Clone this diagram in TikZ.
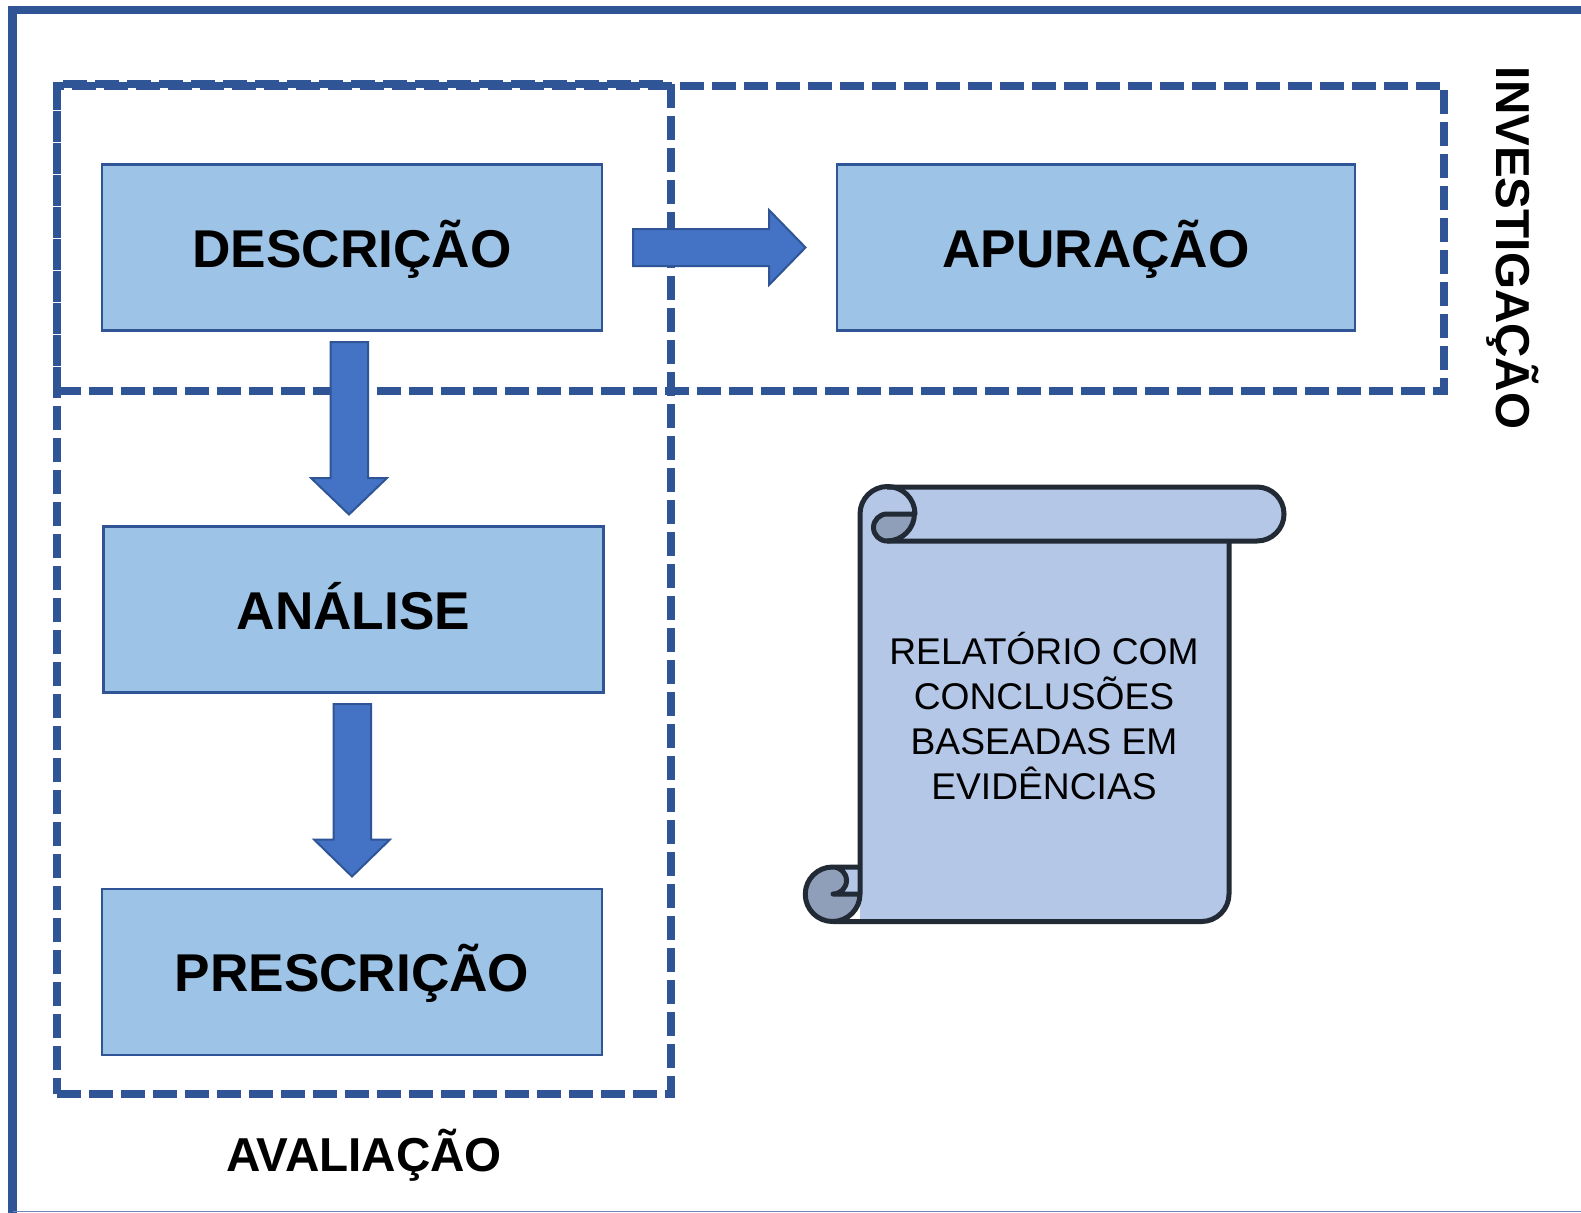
\documentclass[tikz,border=0pt]{standalone}
\usepackage{fontspec}
\setmainfont{Liberation Sans}
\definecolor{frameblue}{HTML}{2F5597}
\definecolor{boxblue}{HTML}{9DC3E6}
\definecolor{arrowblue}{HTML}{4472C4}
\definecolor{scrollfill}{HTML}{B4C7E7}
\definecolor{scrolldark}{HTML}{909FB9}
\definecolor{scrollline}{HTML}{222A35}
\tikzset{
  stagebox/.style={draw=frameblue,fill=boxblue,line width=2.5pt,inner sep=0pt,minimum height=166pt,
    text height=39.5pt,text depth=0pt,font=\fontsize{53.2}{60}\selectfont\bfseries},
  groupbox/.style={draw=frameblue,line width=8pt,dash pattern=on 24pt off 8pt},
  blockarrow/.style={draw=frameblue,fill=arrowblue,line width=2pt,line join=miter},
  grouplabel/.style={inner sep=0pt,font=\fontsize{47.6}{52}\selectfont\bfseries},
  scrollpart/.style={draw=scrollline,line width=5pt,line join=round},
}
\begin{document}
\begin{tikzpicture}[x=1pt,y=-1pt]
\useasboundingbox (0,0) rectangle (1581,1212);
\clip (0,0) rectangle (1581,1212);
\fill[white] (0,0) rectangle (1581,1212);
% outer frame
\draw[frameblue,line width=8.2pt] (1600,10) -- (12.5,10) -- (12.5,1230);
\draw[frameblue!70,line width=1.5pt] (12.5,1211.5) -- (1600,1211.5);
% boxes
\node[stagebox,minimum width=500pt] (descr) at (352,247.5) {DESCRIÇÃO};
\node[stagebox,minimum width=518pt] (apur) at (1096,247.5) {APURAÇÃO};
\node[stagebox,minimum width=500pt] (anal) at (353.5,609.5) {ANÁLISE};
\node[stagebox,minimum width=500pt] (presc) at (352,972) {PRESCRIÇÃO};
% dashed groups
\draw[groupbox] (57,391) -- (1444,391) -- (1444,86) -- (57,86) -- cycle;
\draw[groupbox] (57,1094) -- (671,1094) -- (671,84) -- (57,84) -- cycle;
% block arrows
\draw[blockarrow] (633,229) -- (769,229) -- (769,210) -- (805.5,247.5) -- (769,285) -- (769,266) -- (633,266) -- cycle;
\draw[blockarrow] (330.5,342) -- (368,342) -- (368,478) -- (387,478) -- (349,514.5) -- (311,478) -- (330.5,478) -- cycle;
\draw[blockarrow] (333.5,704) -- (371,704) -- (371,839.5) -- (390,839.5) -- (352,876.5) -- (314,839.5) -- (333.5,839.5) -- cycle;
% scroll
\path[fill=scrollfill] (860,514) arc[start angle=180,end angle=270,radius=27.5] -- (887,487) -- (1257,487)
  arc[start angle=-90,end angle=90,radius=27] -- (1229,541) -- (1229,894)
  arc[start angle=0,end angle=90,radius=27.5] -- (833,921.5) -- (860,921.5) -- cycle;
\path[fill=scrollfill] (833,867) rectangle (860,894);
\path[fill=scrolldark] (915,514) arc[start angle=0,end angle=90,radius=27.5] -- (887,541)
  arc[start angle=90,end angle=270,radius=13.5] -- cycle;
\path[fill=scrolldark] (833,867) arc[start angle=-90,end angle=90,radius=13.5] -- (860.5,894)
  arc[start angle=0,end angle=90,radius=27.5] arc[start angle=90,end angle=270,radius=27.25] -- cycle;
\draw[scrollpart] (860,894) -- (860,514) arc[start angle=180,end angle=360,radius=27.5] -- (887,514)
  arc[start angle=270,end angle=90,radius=13.5] arc[start angle=90,end angle=0,radius=27.5];
\draw[scrollpart] (887,487) -- (1257,487) arc[start angle=-90,end angle=90,radius=27] -- (887,541);
\draw[scrollpart] (1229,541) -- (1229,894) arc[start angle=0,end angle=90,radius=27.5] -- (833,921.5);
\draw[scrollpart] (860,867) -- (833,867) arc[start angle=-90,end angle=90,radius=13.5] -- (860,894);
\draw[scrollpart] (860,894) arc[start angle=0,end angle=90,radius=27.5] arc[start angle=90,end angle=270,radius=27.25];
\node[inner sep=0pt,align=center,font=\fontsize{37.2}{45}\selectfont] (report) at (1044,716) {RELATÓRIO COM\\CONCLUSÕES\\BASEADAS EM\\EVIDÊNCIAS};
% labels
\node[grouplabel,text height=34pt,text depth=0pt] (aval) at (364,1154) {AVALIAÇÃO};
\node[grouplabel,rotate=-90,text height=34pt,text depth=0pt] (inv) at (1513,248) {INVESTIGAÇÃO};
\end{tikzpicture}
\end{document}
